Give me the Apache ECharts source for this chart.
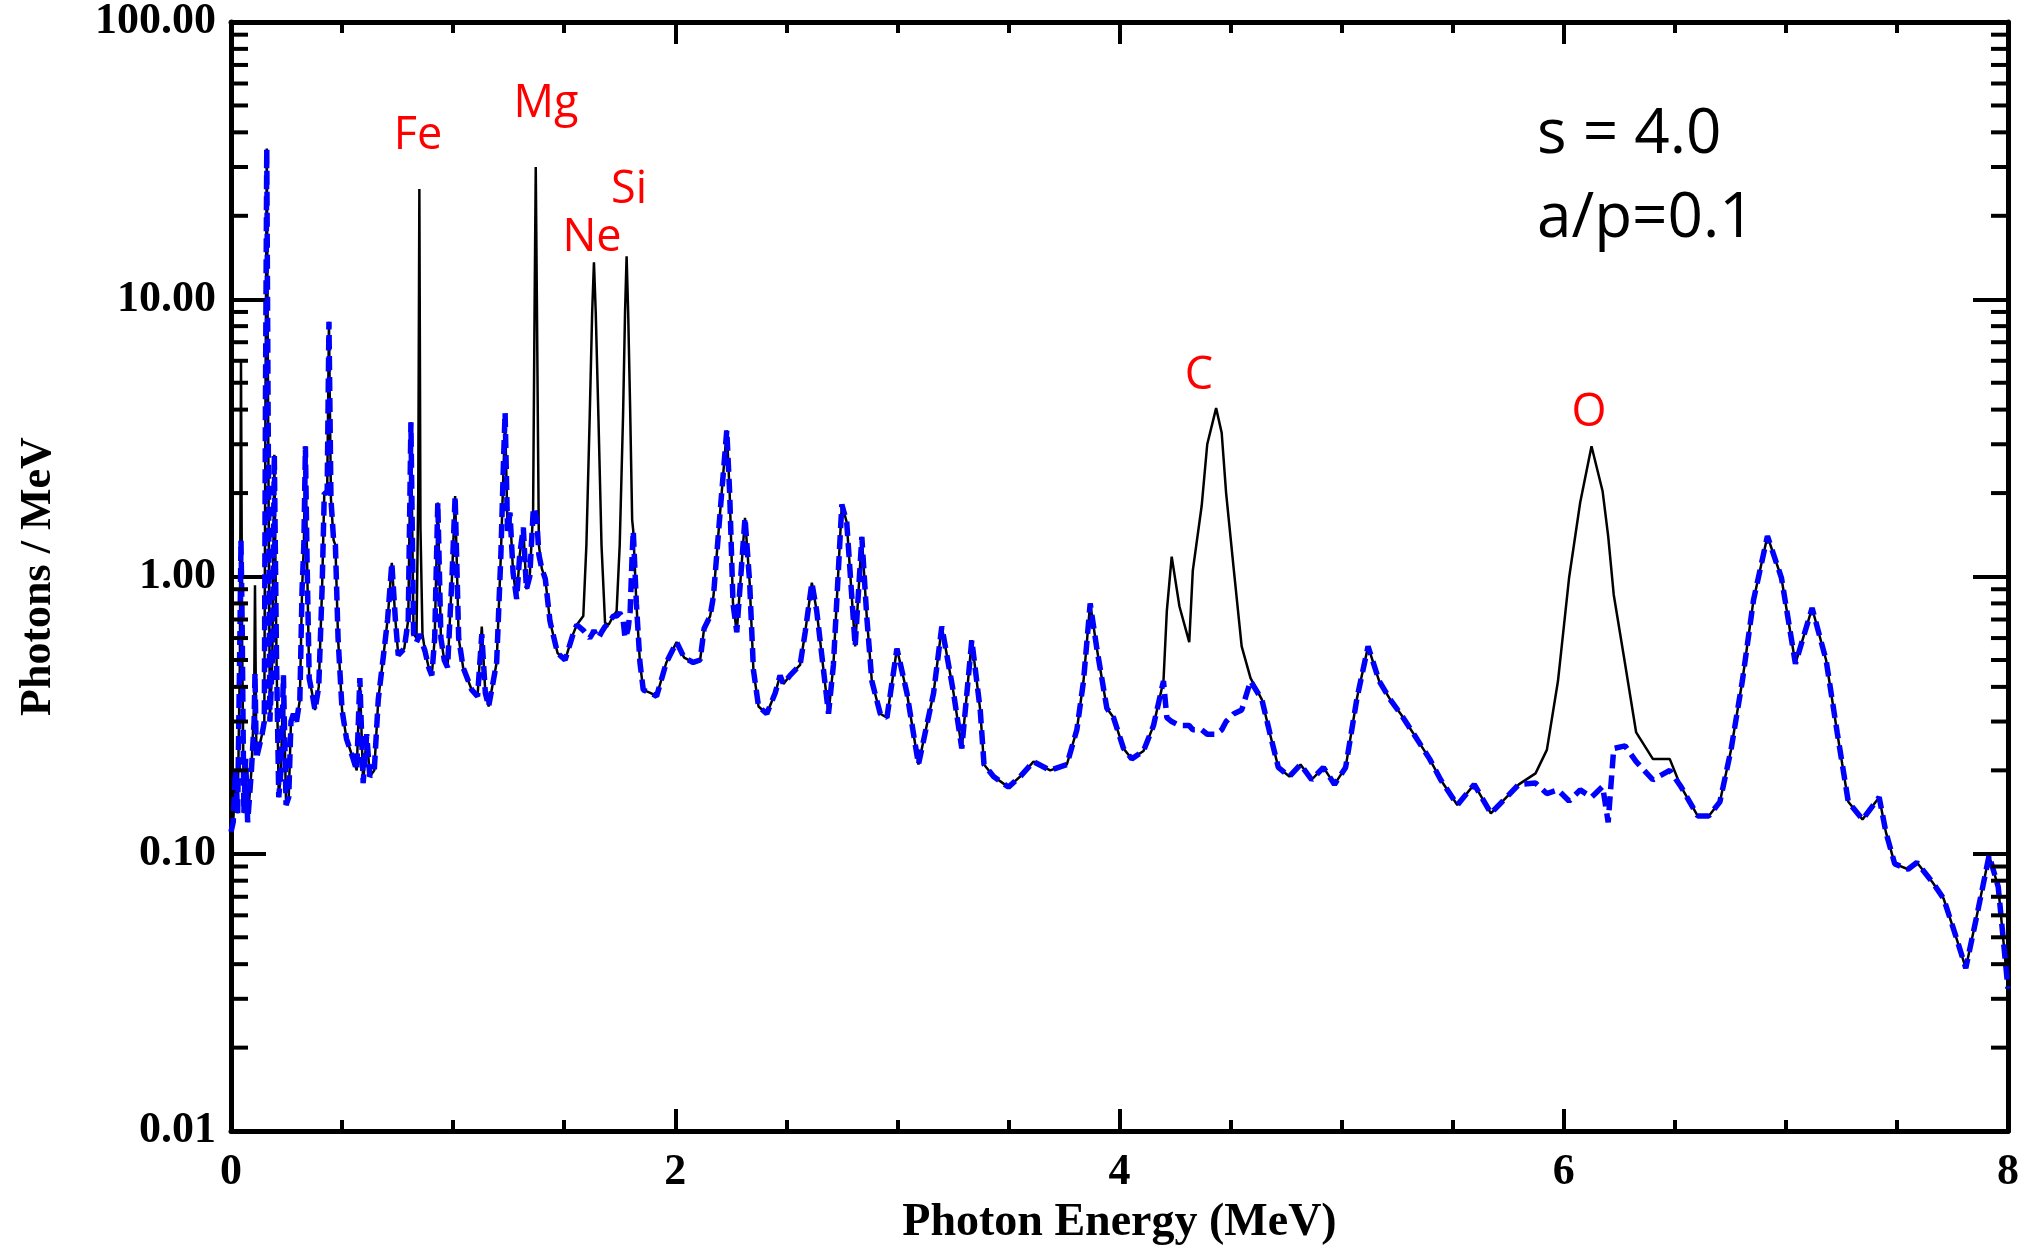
<!DOCTYPE html>
<html>
<head>
<meta charset="utf-8">
<script src="https://cdn.jsdelivr.net/npm/echarts@6.0.0/dist/echarts.min.js"></script>
<style>
html,body{margin:0;padding:0;background:#fff;}
#chart{width:2028px;height:1251px;}
</style>
</head>
<body>
<div id="chart"></div>
<script>
// Photon energy grid (MeV)
const energy = [
0.000,0.010,0.020,0.030,0.040,0.045,0.050,0.058,0.066,0.075,0.092,0.104,0.108,0.114,0.125,0.140,0.150,0.155,0.161,0.167,
0.175,0.186,0.195,0.205,0.215,0.225,0.236,0.248,0.260,0.270,0.281,0.295,0.310,0.320,0.328,0.335,0.342,0.352,0.365,0.378,
0.395,0.410,0.420,0.433,0.441,0.450,0.462,0.470,0.482,0.500,0.520,0.550,0.566,0.580,0.595,0.611,0.625,0.645,0.663,0.690,
0.705,0.724,0.740,0.753,0.780,0.798,0.810,0.822,0.835,0.843,0.848,0.853,0.862,0.873,0.890,0.904,0.917,0.931,0.945,0.960,
0.975,0.995,1.009,1.025,1.045,1.084,1.110,1.129,1.145,1.160,1.196,1.215,1.228,1.234,1.245,1.256,1.270,1.286,1.300,1.316,
1.330,1.345,1.360,1.367,1.372,1.377,1.386,1.399,1.415,1.436,1.470,1.504,1.540,1.557,1.586,1.600,1.615,1.626,1.634,1.642,
1.654,1.668,1.684,1.700,1.721,1.736,1.750,1.765,1.774,1.781,1.788,1.797,1.806,1.811,1.825,1.841,1.856,1.890,1.916,1.960,
2.006,2.040,2.081,2.112,2.130,2.157,2.172,2.200,2.232,2.245,2.260,2.277,2.314,2.335,2.352,2.375,2.412,2.450,2.472,2.487,
2.517,2.562,2.585,2.615,2.637,2.690,2.712,2.750,2.772,2.810,2.840,2.862,2.885,2.923,2.953,2.998,3.043,3.095,3.163,3.200,
3.253,3.290,3.335,3.373,3.390,3.433,3.500,3.553,3.613,3.688,3.763,3.808,3.838,3.868,3.898,3.943,3.973,4.018,4.055,4.108,
4.153,4.198,4.213,4.235,4.270,4.314,4.330,4.370,4.395,4.435,4.460,4.480,4.515,4.550,4.590,4.641,4.678,4.715,4.765,4.815,
4.865,4.918,4.968,5.018,5.069,5.119,5.169,5.219,5.270,5.320,5.396,5.446,5.521,5.597,5.672,5.722,5.798,5.873,5.924,5.974,
6.024,6.074,6.125,6.175,6.200,6.225,6.276,6.326,6.401,6.477,6.527,6.603,6.653,6.703,6.753,6.804,6.854,6.917,6.980,7.043,
7.118,7.181,7.231,7.281,7.345,7.420,7.450,7.490,7.550,7.590,7.660,7.710,7.760,7.810,7.860,7.915,7.956,8.000
];
// Solid black spectrum (Photons / MeV), with narrow lines
const solidSpectrum = [
0.12,0.13,0.19,0.14,0.5,6.0,0.6,0.14,0.21,0.13,0.2,0.35,0.93,0.24,0.24,0.27,0.3,4.0,35,4.0,
0.3,0.5,2.75,0.5,0.16,0.2,0.44,0.15,0.16,0.3,0.32,0.3,0.36,0.9,1.3,2.95,1.2,0.43,0.38,0.33,
0.4,0.9,2.0,2.0,8.3,1.9,1.35,1.3,0.6,0.33,0.26,0.22,0.2,0.43,0.18,0.27,0.19,0.2,0.36,0.55,
0.7,1.12,0.7,0.52,0.55,0.7,3.6,0.62,0.6,2.0,25,1.5,0.62,0.54,0.47,0.44,0.6,1.85,0.6,0.5,
0.47,1.0,1.95,0.6,0.47,0.39,0.37,0.66,0.38,0.34,0.49,1.2,2.6,3.8,1.46,1.7,1.03,0.83,1.2,1.5,
0.9,1.0,1.7,10,30,10,1.3,1.07,0.98,0.69,0.53,0.5,0.62,0.67,0.72,1.3,3.8,9.0,13.6,9.0,
3.8,1.3,0.68,0.67,0.72,0.75,1.3,3.8,9.0,14.3,9.0,4.0,1.6,1.46,0.8,0.49,0.39,0.38,0.37,0.49,
0.58,0.51,0.49,0.5,0.65,0.72,0.85,1.63,3.37,2.0,0.8,0.63,1.63,0.95,0.46,0.34,0.32,0.38,0.44,0.41,
0.44,0.48,0.63,0.95,0.75,0.32,0.48,1.82,1.57,0.56,1.39,0.72,0.42,0.32,0.31,0.55,0.38,0.21,0.38,0.66,
0.38,0.24,0.59,0.33,0.21,0.19,0.174,0.19,0.215,0.2,0.21,0.28,0.42,0.80,0.55,0.335,0.31,0.24,0.22,0.235,
0.29,0.42,0.75,1.18,0.78,0.58,1.05,1.8,3.0,4.05,3.3,2.0,1.05,0.56,0.43,0.36,0.27,0.205,0.19,0.21,
0.185,0.205,0.178,0.205,0.364,0.56,0.42,0.36,0.316,0.274,0.22,0.185,0.15,0.178,0.14,0.154,0.178,0.195,0.237,0.42,
0.99,1.85,2.95,2.03,1.4,0.86,0.485,0.274,0.22,0.22,0.175,0.137,0.137,0.154,0.237,0.42,0.82,1.40,0.99,0.485,
0.77,0.5,0.274,0.154,0.133,0.16,0.12,0.092,0.088,0.093,0.079,0.069,0.052,0.0387,0.06,0.0986,0.076,0.0326
];
// Dashed blue spectrum (Photons / MeV), without those lines
const dashedSpectrum = [
0.12,0.13,0.2,0.14,0.6,1.35,0.7,0.14,0.22,0.13,0.2,0.3,0.45,0.22,0.24,0.27,0.3,4.0,35,4.0,
0.3,0.5,2.75,0.5,0.16,0.2,0.44,0.15,0.16,0.3,0.32,0.3,0.36,0.9,1.3,2.95,1.2,0.43,0.38,0.33,
0.4,0.9,2.0,2.0,8.3,1.9,1.35,1.3,0.6,0.33,0.26,0.22,0.2,0.43,0.18,0.27,0.19,0.2,0.36,0.55,
0.7,1.12,0.7,0.52,0.55,0.7,3.6,0.62,0.58,0.6,0.62,0.6,0.6,0.54,0.47,0.44,0.6,1.85,0.6,0.5,
0.47,1.0,1.95,0.6,0.47,0.39,0.37,0.62,0.38,0.34,0.49,1.2,2.8,3.9,1.46,1.7,1.03,0.83,1.2,1.5,
0.9,1.0,1.7,1.77,1.77,1.6,1.2,1.07,0.98,0.69,0.53,0.5,0.62,0.67,0.64,0.62,0.6,0.62,0.64,0.62,
0.6,0.63,0.66,0.68,0.72,0.72,0.74,0.7,0.6,0.62,0.65,0.75,1.2,1.46,0.8,0.49,0.39,0.38,0.37,0.49,
0.58,0.51,0.49,0.5,0.65,0.72,0.85,1.63,3.37,2.0,0.8,0.63,1.63,0.95,0.46,0.34,0.32,0.38,0.44,0.41,
0.44,0.48,0.63,0.95,0.75,0.32,0.48,1.82,1.57,0.56,1.39,0.72,0.42,0.32,0.31,0.55,0.38,0.21,0.38,0.66,
0.38,0.24,0.59,0.33,0.21,0.19,0.174,0.19,0.215,0.2,0.21,0.28,0.42,0.80,0.55,0.335,0.31,0.24,0.22,0.235,
0.29,0.42,0.31,0.30,0.29,0.29,0.28,0.28,0.27,0.27,0.28,0.30,0.32,0.33,0.42,0.36,0.27,0.205,0.19,0.21,
0.185,0.205,0.178,0.205,0.364,0.56,0.42,0.36,0.316,0.274,0.22,0.185,0.15,0.178,0.14,0.154,0.178,0.18,0.165,0.17,
0.155,0.17,0.16,0.175,0.13,0.24,0.245,0.215,0.185,0.2,0.175,0.137,0.137,0.154,0.237,0.42,0.82,1.40,0.99,0.485,
0.77,0.5,0.274,0.154,0.133,0.16,0.12,0.092,0.088,0.093,0.079,0.069,0.052,0.0387,0.06,0.0986,0.076,0.0326
];
// Axis tick values
const xTickLabels = [0, 2, 4, 6, 8];
const yDecades = [0.01, 0.1, 1, 10, 100];
const yMinorTicks = [
0.02,0.03,0.04,0.05,0.06,0.07,0.08,0.09,
0.2,0.3,0.4,0.5,0.6,0.7,0.8,0.9,
2,3,4,5,6,7,8,9,
20,30,40,50,60,70,80,90
];
// Annotations
const lineLabels = [
  {text:'Fe', x:418, y:136},
  {text:'Mg', x:546, y:104},
  {text:'Ne', x:592, y:238},
  {text:'Si', x:629, y:190},
  {text:'C',  x:1199, y:376},
  {text:'O',  x:1589, y:413}
];
const paramLines = [
  {text:'s = 4.0', x:1537, y:135},
  {text:'a/p=0.1', x:1537, y:219}
];

const solidData = energy.map((e, i) => [e, solidSpectrum[i]]);
const dashedData = energy.map((e, i) => [e, dashedSpectrum[i]]);

const serif = '"Liberation Serif","Times New Roman",serif';
const sans = '"Open Sans","Liberation Sans",sans-serif';
const axisLineStyle = {color:'#000', width:5};
const tickStyle = {color:'#000', width:4};

const chart = echarts.init(document.getElementById('chart'), null, {renderer:'canvas'});

const graphics = [];
lineLabels.forEach(l => graphics.push({
  type:'text', x:l.x, y:l.y, z:100,
  style:{text:l.text, fill:'#ff0000', font:'45px ' + sans, align:'center', verticalAlign:'middle', textAlign:'center', textVerticalAlign:'middle'}
}));
paramLines.forEach(l => graphics.push({
  type:'text', x:l.x, y:l.y, z:100,
  style:{text:l.text, fill:'#000', font:'62px ' + sans, align:'left', verticalAlign:'middle', textAlign:'left', textVerticalAlign:'middle'}
}));

const option = {
  animation:false,
  backgroundColor:'#fff',
  grid:{left:231, right:20, top:15, bottom:113, containLabel:false},
  xAxis:[
    {
      type:'value', position:'bottom', min:0, max:8, interval:2,
      axisLine:{show:true, onZero:false, lineStyle:axisLineStyle},
      axisTick:{show:true, inside:true, length:22, lineStyle:tickStyle},
      minorTick:{show:true, splitNumber:4, length:11, lineStyle:tickStyle},
      splitLine:{show:false}, minorSplitLine:{show:false},
      axisLabel:{show:true, margin:20, color:'#000', fontFamily:serif, fontWeight:'bold', fontSize:44,
        showMinLabel:true, showMaxLabel:true,
        formatter:(v) => xTickLabels.indexOf(v) >= 0 ? String(v) : ''},
      name:'Photon Energy (MeV)', nameLocation:'middle', nameGap:64,
      nameTextStyle:{color:'#000', fontFamily:serif, fontWeight:'bold', fontSize:46}
    },
    {
      type:'value', position:'top', min:0, max:8, interval:2,
      axisLine:{show:true, onZero:false, lineStyle:axisLineStyle},
      axisTick:{show:true, inside:true, length:22, lineStyle:tickStyle},
      minorTick:{show:true, splitNumber:4, length:11, lineStyle:tickStyle},
      splitLine:{show:false}, axisLabel:{show:false}
    }
  ],
  yAxis:[
    {
      type:'log', logBase:10, position:'left', min:0.01, max:100,
      axisLine:{show:true, onZero:false, lineStyle:axisLineStyle},
      axisTick:{show:true, inside:true, length:35, lineStyle:tickStyle},
      minorTick:{show:false}, splitLine:{show:false},
      axisLabel:{show:true, margin:15, color:'#000', fontFamily:serif, fontWeight:'bold', fontSize:44,
        showMinLabel:true, showMaxLabel:true,
        formatter:(v) => Number(v).toFixed(2)},
      name:'Photons / MeV', nameLocation:'middle', nameRotate:90, nameGap:170,
      nameTextStyle:{color:'#000', fontFamily:serif, fontWeight:'bold', fontSize:44}
    },
    {
      type:'log', logBase:10, position:'right', min:0.01, max:100,
      axisLine:{show:true, onZero:false, lineStyle:axisLineStyle},
      axisTick:{show:true, inside:true, length:35, lineStyle:tickStyle},
      minorTick:{show:false}, splitLine:{show:false}, axisLabel:{show:false}
    }
  ],
  graphic:graphics,
  series:[
    {
      name:'with lines', type:'line', xAxisIndex:0, yAxisIndex:0,
      data:solidData, showSymbol:false, symbol:'none', smooth:false, z:2,
      lineStyle:{color:'#000000', width:2.5}
    },
    {
      name:'without lines', type:'line', xAxisIndex:0, yAxisIndex:0,
      data:dashedData, showSymbol:false, symbol:'none', smooth:false, z:3,
      lineStyle:{color:'#0000ff', width:5.5, type:[14,7]}
    },
    {
      name:'minor ticks', type:'custom', xAxisIndex:0, yAxisIndex:0,
      coordinateSystem:'cartesian2d', silent:true, clip:false, z:4,
      data:yMinorTicks.map(v => [0, v]),
      renderItem:(params, api) => {
        const v = api.value(1);
        const pl = api.coord([0, v]);
        const pr = api.coord([8, v]);
        return {type:'group', children:[
          {type:'line', shape:{x1:pl[0], y1:pl[1], x2:pl[0] + 17, y2:pl[1]}, style:{stroke:'#000', lineWidth:4}},
          {type:'line', shape:{x1:pr[0], y1:pr[1], x2:pr[0] - 17, y2:pr[1]}, style:{stroke:'#000', lineWidth:4}}
        ]};
      }
    }
  ]
};
chart.setOption(option);
</script>
</body>
</html>
